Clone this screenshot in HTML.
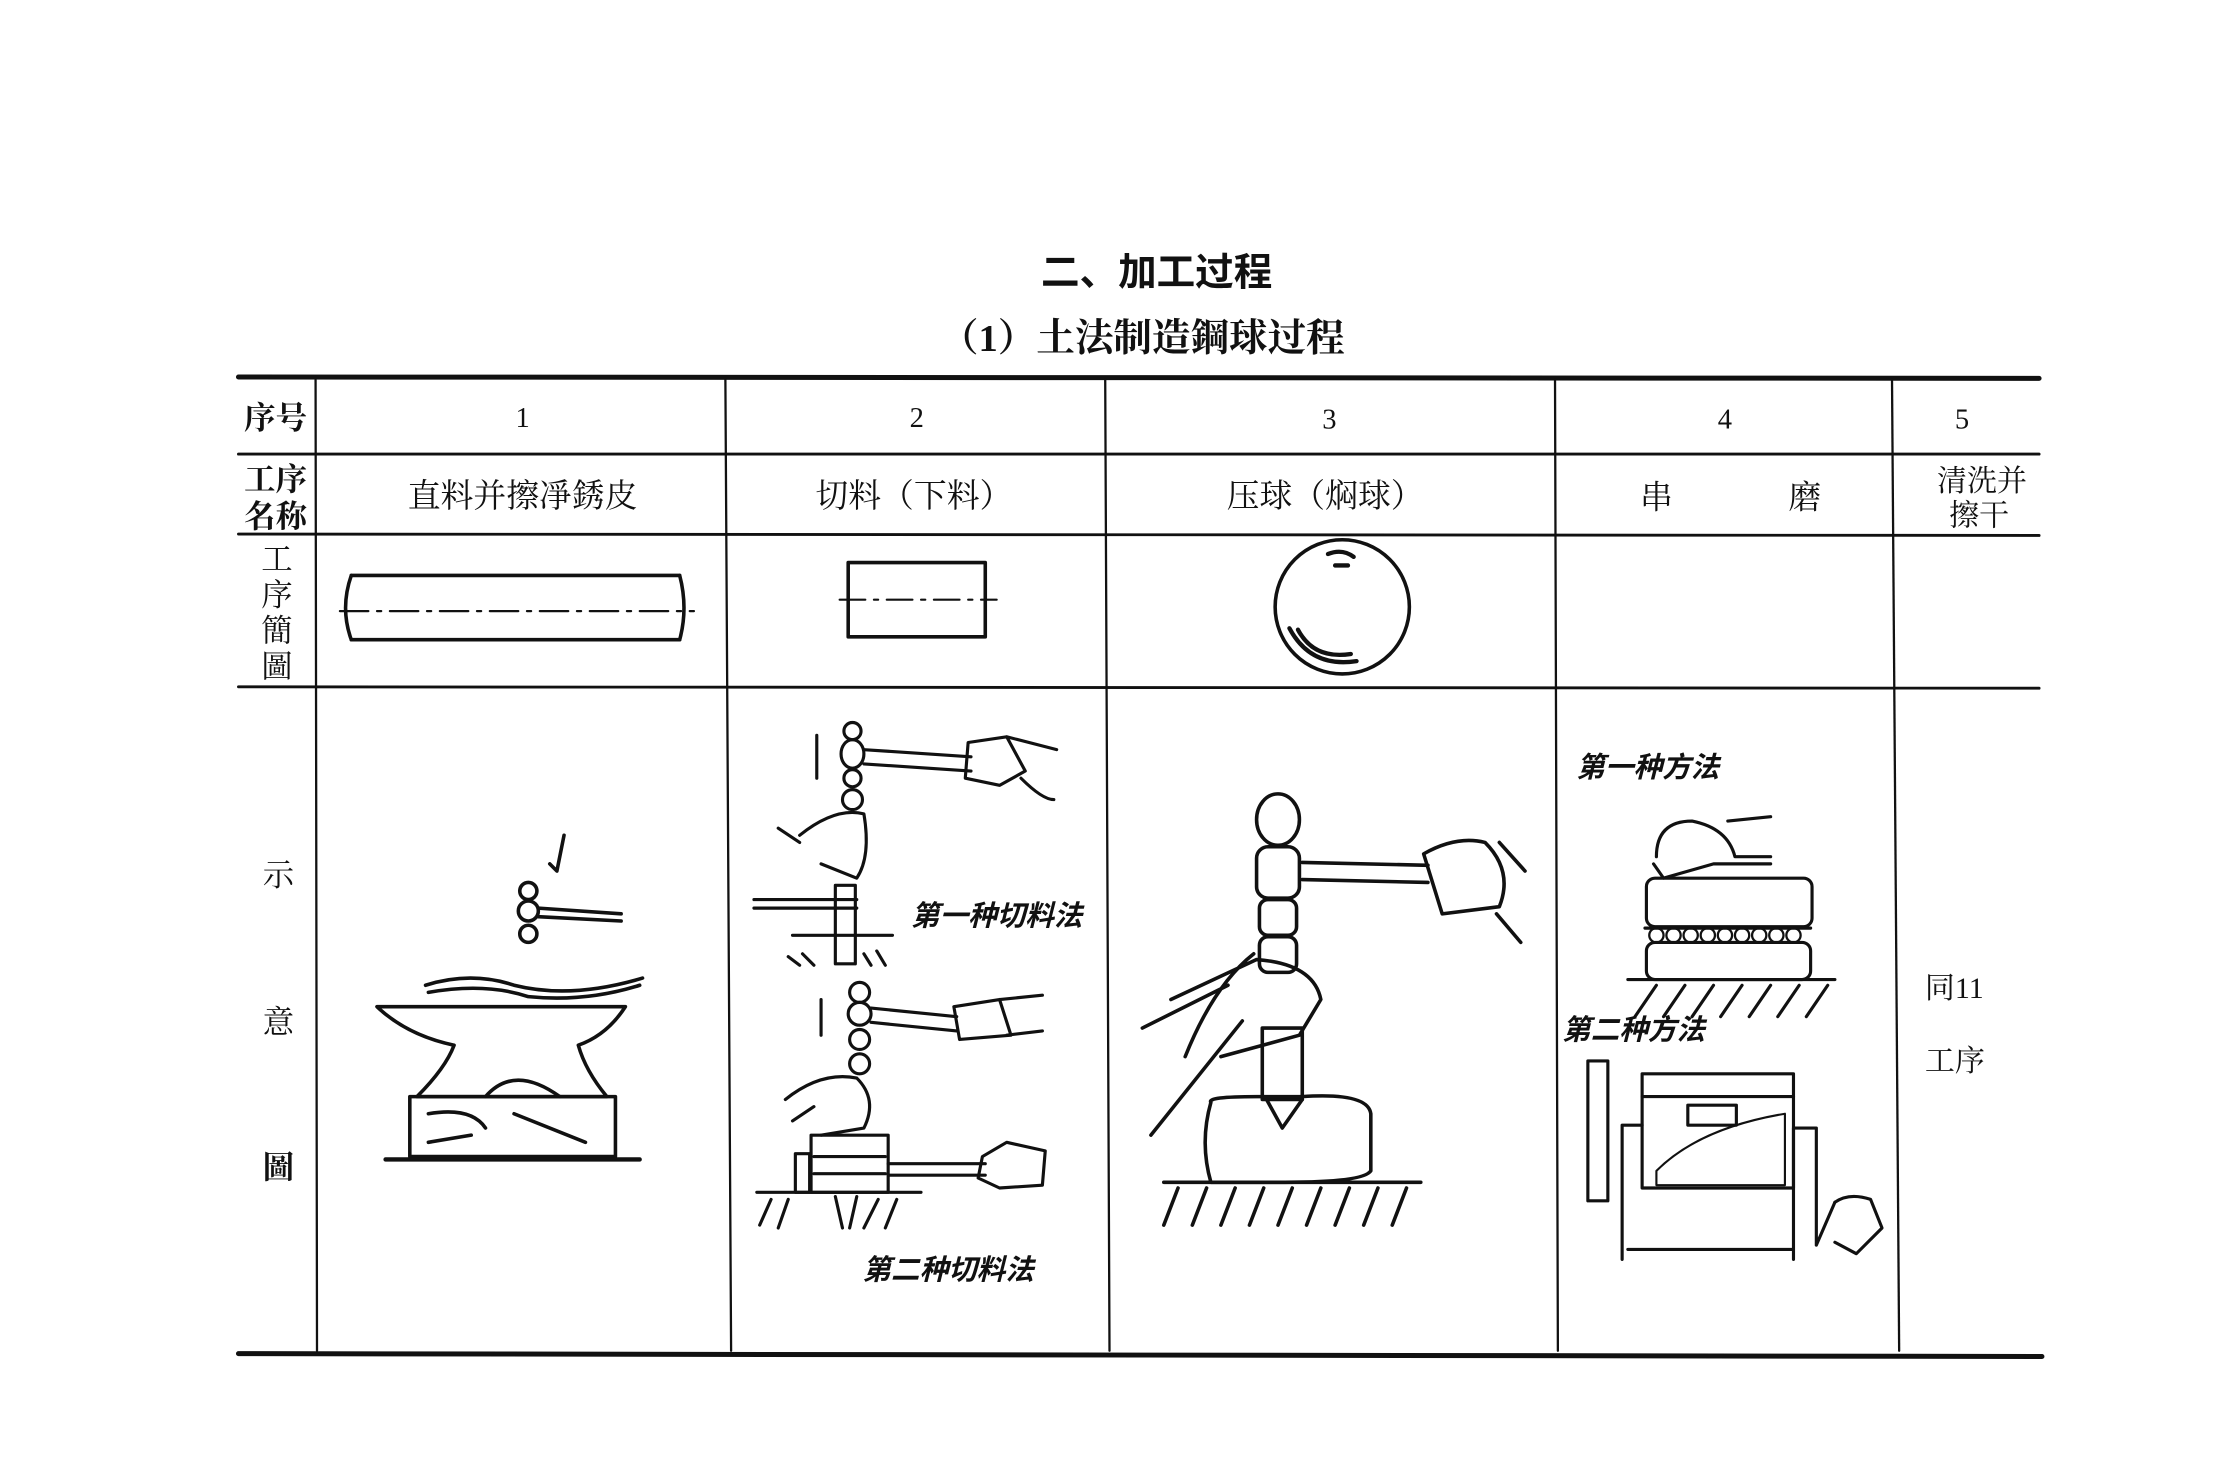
<!DOCTYPE html>
<html><head><meta charset="utf-8"><style>
html,body{margin:0;padding:0;background:#fff}
svg{display:block}
text{font-family:"Liberation Serif","Noto Serif CJK SC","Noto Sans CJK SC",serif;fill:#111}
.s{font-family:"Liberation Sans","Noto Sans CJK SC",sans-serif;font-weight:bold}
</style></head><body>
<svg width="2240" height="1474" viewBox="0 0 1568.7 1032.3" preserveAspectRatio="none" xmlns="http://www.w3.org/2000/svg">
<g stroke="#111" fill="none" stroke-linecap="round" stroke-linejoin="round">
<line x1="167" y1="264" x2="1428" y2="265" stroke-width="3.5"/>
<line x1="167" y1="318" x2="1428" y2="318" stroke-width="2"/>
<line x1="167" y1="374" x2="1428" y2="375" stroke-width="2"/>
<line x1="167" y1="481" x2="1428" y2="482" stroke-width="2"/>
<line x1="167" y1="948" x2="1430" y2="950" stroke-width="3.5"/>
<g stroke-width="1.6">
<line x1="221" y1="266" x2="222" y2="946"/>
<line x1="508" y1="266" x2="512" y2="946"/>
<line x1="774" y1="266" x2="777" y2="946"/>
<line x1="1089" y1="266" x2="1091" y2="946"/>
<line x1="1325" y1="266" x2="1330" y2="946"/>
</g>
<g stroke-width="2.5">
<path d="M246 403 L476 403 M246 448 L476 448"/>
<path d="M246 403 Q238 426 246 448 M476 403 Q482 426 476 448"/>
<path d="M238 428 L486 428" stroke-width="1.5" stroke-dasharray="20 6 3 6"/>
<rect x="594" y="394" width="96" height="52"/>
<path d="M588 420 L698 420" stroke-width="1.5" stroke-dasharray="18 6 3 6"/>
<ellipse cx="940" cy="425" rx="47" ry="47"/>
<path d="M903 440 Q918 468 950 463 M909 441 Q920 462 946 458" stroke-width="3"/>
<path d="M930 388 Q940 384 948 390 M935 396 L944 396" stroke-width="3"/>
</g>
<g stroke-width="2.5">
<path d="M298 690 Q330 680 360 690 Q400 700 450 685"/>
<path d="M300 695 Q340 688 370 698 Q410 702 448 690"/>
<path d="M264 705 L438 705 Q425 725 405 732 Q410 750 425 768 L292 768 Q312 748 318 732 Q285 725 264 705Z"/>
<rect x="287" y="768" width="144" height="42"/>
<path d="M270 812 L448 812" stroke-width="3"/>
<path d="M340 768 Q360 745 392 768"/>
<path d="M300 780 Q330 775 340 790 M360 780 L410 800 M300 800 L330 795"/>
<circle cx="370" cy="624" r="6"/><circle cx="370" cy="638" r="7"/><circle cx="370" cy="654" r="6"/>
<path d="M377 636 L435 640 M377 642 L435 645"/>
<path d="M395 585 L390 610 L385 605"/>
</g>
<g stroke-width="2.2">
<circle cx="597" cy="512" r="6"/><ellipse cx="597" cy="528" rx="8" ry="10"/><circle cx="597" cy="545" r="6"/><circle cx="597" cy="560" r="7"/>
<path d="M605 525 L680 530 M605 535 L680 540"/>
<path d="M678 520 L705 516 L718 540 L700 550 L676 545 Z M705 516 L740 525 M715 545 Q730 560 738 560"/>
<path d="M572 515 L572 545"/>
<path d="M560 585 Q585 565 605 570 Q610 600 600 615 L575 605 M545 580 L560 590"/>
<rect x="585" y="620" width="14" height="55"/>
<path d="M528 630 L600 630 M528 636 L600 636"/>
<path d="M555 655 L625 655 M560 676 L552 670 M570 676 L562 668 M610 676 L605 668 M620 676 L614 666"/>
<text x="638" y="648" font-size="20" class="s" stroke="none" font-style="italic">第一种切料法</text>
<circle cx="602" cy="695" r="7"/><circle cx="602" cy="710" r="8"/><circle cx="602" cy="728" r="7"/><circle cx="602" cy="745" r="7"/>
<path d="M610 706 L670 712 M610 716 L670 722"/>
<path d="M668 705 L700 700 L708 725 L672 728 Z M700 700 L730 697 M705 725 L730 722"/>
<path d="M575 700 L575 725"/>
<path d="M550 770 Q575 750 600 755 Q615 770 605 790 L575 795 M570 775 L555 785"/>
<rect x="568" y="795" width="54" height="40"/>
<rect x="557" y="808" width="10" height="27"/>
<path d="M570 810 L620 810 M570 822 L620 822"/>
<path d="M622 815 L690 815 M622 823 L690 823"/>
<path d="M688 810 L705 800 L732 806 L730 830 L700 832 L685 825 Z"/>
<path d="M530 835 L645 835 M540 840 L532 858 M552 840 L545 860 M615 840 L605 860 M628 840 L620 860 M585 838 L590 860 M600 838 L595 860"/>
<text x="604" y="896" font-size="20" class="s" stroke="none" font-style="italic">第二种切料法</text>
</g>
<g stroke-width="2.5">
<ellipse cx="895" cy="574" rx="15" ry="18"/>
<rect x="880" y="593" width="30" height="36" rx="8"/>
<rect x="882" y="630" width="26" height="25" rx="6"/>
<rect x="882" y="656" width="26" height="25" rx="6"/>
<path d="M912 604 L1000 606 M912 616 L1000 618"/>
<path d="M997 598 Q1020 585 1040 590 Q1060 610 1050 635 L1010 640 Z M1050 590 L1068 610 M1048 640 L1065 660"/>
<path d="M878 668 Q850 690 830 740 M820 700 L880 672 Q920 675 925 700 L910 725 L855 740 M800 720 L860 690 M806 795 L870 715"/>
<rect x="884" y="720" width="28" height="50"/>
<path d="M848 772 Q845 768 880 768 L912 768 Q958 765 960 780 L960 820 Q955 828 900 828 L848 828 Q840 800 848 772Z"/>
<path d="M887 770 L898 790 L912 770"/>
<path d="M815 828 L995 828 M825 832 L815 858 M845 832 L835 858 M865 832 L855 858 M885 832 L875 858 M905 832 L895 858 M925 832 L915 858 M945 832 L935 858 M965 832 L955 858 M985 832 L975 858"/>
</g>
<g stroke-width="2.2">
<text x="1104" y="544" font-size="20" class="s" stroke="none" font-style="italic">第一种方法</text>
<path d="M1160 600 Q1160 575 1185 575 Q1210 580 1215 600 L1240 600 M1158 605 L1165 615 L1200 605 L1240 605 M1210 575 L1240 572"/>
<rect x="1153" y="615" width="116" height="34" rx="6"/>
<path d="M1152 650 L1268 650"/>
<g stroke-width="1.6"><circle cx="1160" cy="655" r="5"/><circle cx="1172" cy="655" r="5"/><circle cx="1184" cy="655" r="5"/><circle cx="1196" cy="655" r="5"/><circle cx="1208" cy="655" r="5"/><circle cx="1220" cy="655" r="5"/><circle cx="1232" cy="655" r="5"/><circle cx="1244" cy="655" r="5"/><circle cx="1256" cy="655" r="5"/></g>
<rect x="1153" y="660" width="115" height="26" rx="6"/>
<path d="M1140 686 L1285 686 M1160 690 L1145 712 M1180 690 L1165 712 M1200 690 L1185 712 M1220 690 L1205 712 M1240 690 L1225 712 M1260 690 L1245 712 M1280 690 L1265 712"/>
<text x="1094" y="728" font-size="20" class="s" stroke="none" font-style="italic">第二种方法</text>
<rect x="1112" y="743" width="14" height="98"/>
<rect x="1150" y="752" width="106" height="80"/>
<path d="M1150 768 L1256 768"/>
<rect x="1182" y="774" width="34" height="14"/>
<path d="M1160 820 Q1190 790 1250 780 L1250 830 L1160 830Z" stroke-width="1.5"/>
<path d="M1136 788 L1150 788 M1136 788 L1136 882 M1140 875 L1255 875 M1256 790 L1272 790 L1272 872 M1256 790 L1256 882 M1272 872 L1285 842"/>
<path d="M1285 842 Q1295 835 1310 840 L1318 860 L1300 878 L1285 870"/>
</g>
</g>
<g stroke="none">
<text x="810" y="200" font-size="27" class="s" text-anchor="middle">二、加工过程</text>
<text x="800" y="246" font-size="27" text-anchor="middle" font-weight="bold">（1）土法制造鋼球过程</text>
<text x="193" y="300" font-size="22" text-anchor="middle" font-weight="bold">序号</text>
<text x="366" y="299" font-size="20" text-anchor="middle">1</text>
<text x="642" y="299" font-size="20" text-anchor="middle">2</text>
<text x="931" y="300" font-size="20" text-anchor="middle">3</text>
<text x="1208" y="300" font-size="20" text-anchor="middle">4</text>
<text x="1374" y="300" font-size="20" text-anchor="middle">5</text>
<text x="193" y="343" font-size="22" text-anchor="middle" font-weight="bold">工序</text>
<text x="193" y="369" font-size="22" text-anchor="middle" font-weight="bold">名称</text>
<text x="366" y="355" font-size="23" text-anchor="middle">直料并擦凈銹皮</text>
<text x="640" y="355" font-size="23" text-anchor="middle">切料（下料）</text>
<text x="928" y="355" font-size="23" text-anchor="middle">压球（焖球）</text>
<text x="1160" y="356" font-size="23" text-anchor="middle">串</text>
<text x="1264" y="356" font-size="23" text-anchor="middle">磨</text>
<text x="1388" y="344" font-size="21" text-anchor="middle">清洗并</text>
<text x="1386" y="368" font-size="21" text-anchor="middle">擦干</text>
<text x="194" y="399" font-size="22" text-anchor="middle">工</text>
<text x="194" y="424" font-size="22" text-anchor="middle">序</text>
<text x="194" y="449" font-size="22" text-anchor="middle">簡</text>
<text x="194" y="474" font-size="22" text-anchor="middle">圖</text>
<text x="195" y="620" font-size="22" text-anchor="middle">示</text>
<text x="195" y="723" font-size="22" text-anchor="middle">意</text>
<text x="195" y="825" font-size="22" text-anchor="middle" font-weight="bold">圖</text>
<text x="1348" y="699" font-size="21">同11</text>
<text x="1348" y="750" font-size="21">工序</text>
</g>
</svg>
</body></html>
